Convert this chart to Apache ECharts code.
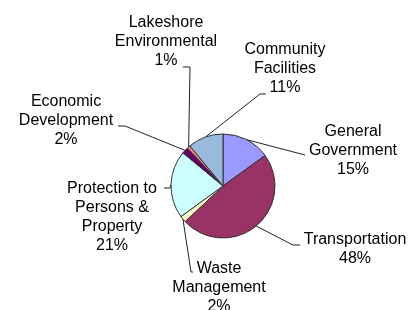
<!DOCTYPE html>
<html>
<head>
<meta charset="utf-8">
<script src="https://cdn.jsdelivr.net/npm/echarts@6/dist/echarts.min.js"></script>
<style>
html,body{margin:0;padding:0;background:#fff;}
#c{width:413px;height:310px;}
</style>
</head>
<body>
<div id="c"></div>
<script>
var categories = [
  "General\nGovernment",
  "Transportation",
  "Waste\nManagement",
  "Protection to\nPersons &\nProperty",
  "Economic\nDevelopment",
  "Lakeshore\nEnvironmental",
  "Community\nFacilities"
];
var values = [15, 48, 2, 21, 2, 1, 11];
var colors = ["#9999FF", "#993366", "#FFFFCC", "#CCFFFF", "#660066", "#FF8080", "#99B9DD"];

// label placement (text block center + elbow points of leader line)
var labelPos = [
  {x: 353, y: 151, pts: [[305, 155]]},
  {x: 355, y: 249, pts: [[293, 245], [300, 245]]},
  {x: 219, y: 288, pts: [[191, 272], [193, 272]]},
  {x: 112, y: 217, pts: [[170, 188], [164, 188]]},
  {x: 66,  y: 121, pts: [[125, 126], [118, 126]]},
  {x: 166, y: 42,  pts: [[190, 67], [183, 67]]},
  {x: 285, y: 69,  pts: [[260, 94], [266, 94]]}
];

var chart = echarts.init(document.getElementById('c'), null, {renderer: 'canvas'});
chart.setOption({
  animation: false,
  backgroundColor: '#fff',
  series: [{
    type: 'pie',
    center: [223, 186],
    radius: 52,
    startAngle: 90,
    clockwise: true,
    data: categories.map(function (c, i) {
      return {name: c, value: values[i], itemStyle: {color: colors[i]}};
    }),
    itemStyle: {borderColor: '#333', borderWidth: 1},
    label: {
      show: true,
      position: 'outside',
      fontFamily: 'Liberation Sans, Arial, sans-serif',
      fontSize: 16,
      lineHeight: 19,
      color: '#000',
      align: 'center',
      formatter: function (p) { return p.name + '\n' + Math.round(p.percent) + '%'; }
    },
    labelLine: {
      show: true,
      length: 10,
      length2: 10,
      smooth: false,
      lineStyle: {color: '#222', width: 1}
    },
    labelLayout: function (p) {
      var lp = labelPos[p.dataIndex];
      var start = p.labelLinePoints ? p.labelLinePoints[0] : [lp.x, lp.y];
      return {
        x: lp.x,
        y: lp.y,
        align: 'center',
        verticalAlign: 'middle',
        labelLinePoints: [start].concat(lp.pts)
      };
    }
  }]
});
</script>
</body>
</html>
